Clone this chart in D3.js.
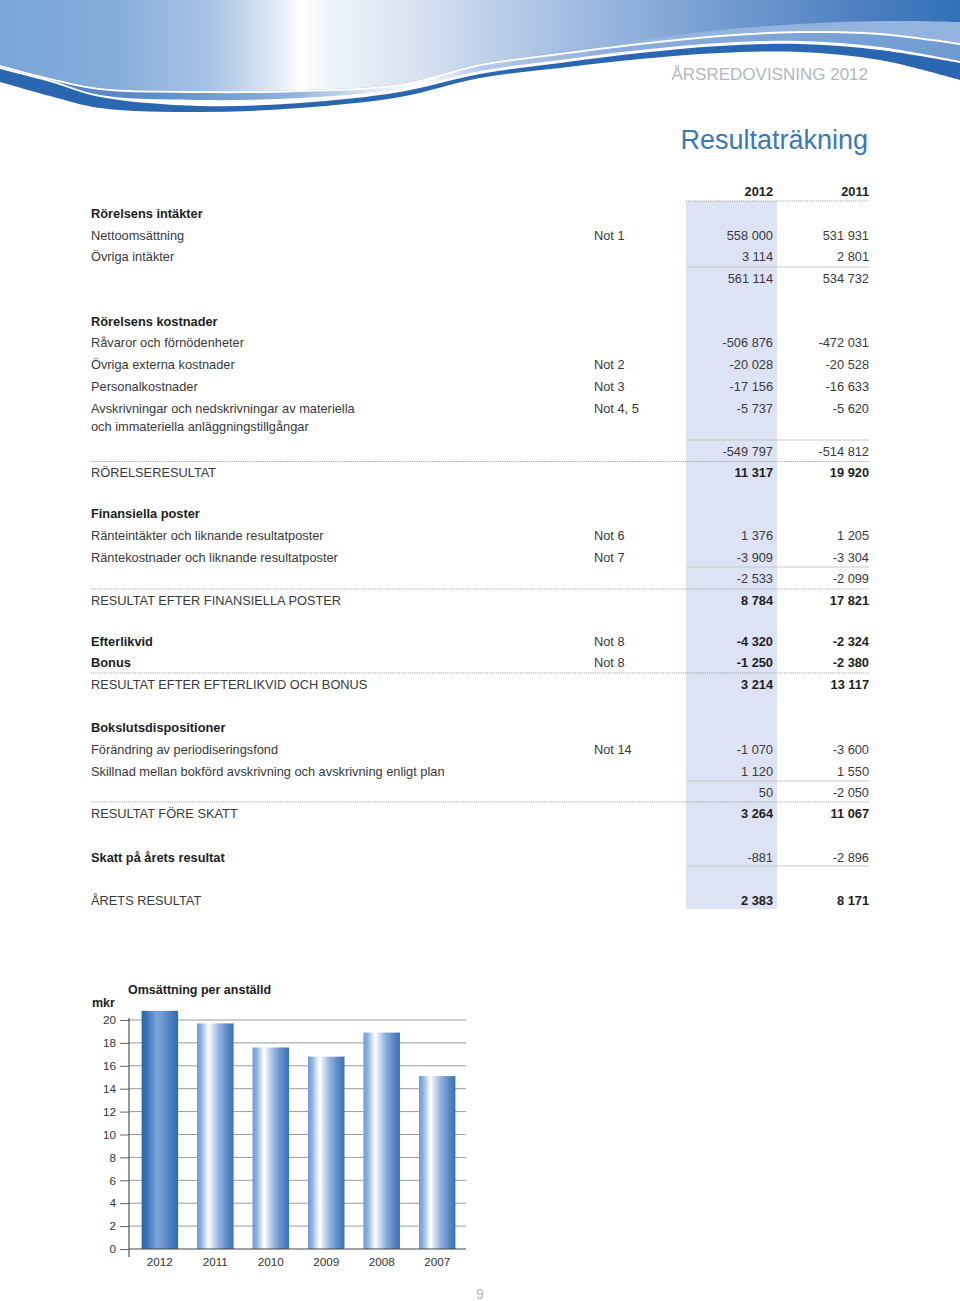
<!DOCTYPE html>
<html><head><meta charset="utf-8">
<script src="https://cdn.jsdelivr.net/npm/d3@7"></script>
<style>html,body{margin:0;padding:0;background:#fff}svg{display:block}</style>
</head><body>
<svg id="page" width="960" height="1301"></svg>
<script>
// ---------- DATA ----------
const tableYears = ["2012", "2011"];
const rowLabels = [
  "Rörelsens intäkter", "Nettoomsättning", "Övriga intäkter", "",
  "Rörelsens kostnader", "Råvaror och förnödenheter", "Övriga externa kostnader", "Personalkostnader",
  "Avskrivningar och nedskrivningar av materiella", "och immateriella anläggningstillgångar", "", "RÖRELSERESULTAT",
  "Finansiella poster", "Ränteintäkter och liknande resultatposter", "Räntekostnader och liknande resultatposter", "",
  "RESULTAT EFTER FINANSIELLA POSTER", "Efterlikvid", "Bonus", "RESULTAT EFTER EFTERLIKVID OCH BONUS",
  "Bokslutsdispositioner", "Förändring av periodiseringsfond", "Skillnad mellan bokförd avskrivning och avskrivning enligt plan", "",
  "RESULTAT FÖRE SKATT", "Skatt på årets resultat", "ÅRETS RESULTAT"
];
const rowNotes = [
  "", "Not 1", "", "",
  "", "", "Not 2", "Not 3",
  "Not 4, 5", "", "", "",
  "", "Not 6", "Not 7", "",
  "", "Not 8", "Not 8", "",
  "", "Not 14", "", "",
  "", "", ""
];
const values2012 = [
  null, 558000, 3114, 561114,
  null, -506876, -20028, -17156,
  -5737, null, -549797, 11317,
  null, 1376, -3909, -2533,
  8784, -4320, -1250, 3214,
  null, -1070, 1120, 50,
  3264, -881, 2383
];
const values2011 = [
  null, 531931, 2801, 534732,
  null, -472031, -20528, -16633,
  -5620, null, -514812, 19920,
  null, 1205, -3304, -2099,
  17821, -2324, -2380, 13117,
  null, -3600, 1550, -2050,
  11067, -2896, 8171
];

const chartTitle = "Omsättning per anställd";
const chartUnit = "mkr";
const chartCategories = ["2012", "2011", "2010", "2009", "2008", "2007"];
const chartValues = [20.8, 19.7, 17.6, 16.8, 18.9, 15.1];
const chartTicks = [0, 2, 4, 6, 8, 10, 12, 14, 16, 18, 20];

// ---------- LAYOUT (not data) ----------
const rowY = [213,235,256,278,321,342,364,386,408,426,451,472,513,535,557,578,600,641,662,684,727,749,771,792,813,857,900];
const rowKind = ["head","item","item","sum","head","item","item","item","item","item","sum","result",
  "head","item","item","sum","result","bold","bold","result","head","item","item","sum","result","tax","result"];
const solidLineY = [267, 440, 567, 781, 866];
const dottedLineY = [461.5, 589, 673, 802];

const FONT = "'Liberation Sans', Arial, Helvetica, sans-serif";
const svg = d3.select("#page");
const defs = svg.append("defs");

// ---------- HEADER DECORATION ----------
function grad(id, stops) {
  const g = defs.append("linearGradient").attr("id", id).attr("gradientUnits", "userSpaceOnUse")
    .attr("x1", 0).attr("x2", 960).attr("y1", 0).attr("y2", 0);
  stops.forEach(s => g.append("stop").attr("offset", s[0]).attr("stop-color", s[1]));
}
grad("mainFill", [[0,"#7aa5d7"],[0.12,"#86addb"],[0.22,"#a8c3e6"],[0.29,"#e4ecf7"],[0.315,"#ffffff"],[0.345,"#eef3fa"],[0.45,"#d3def0"],[0.55,"#b0c6e6"],[0.65,"#92b1dd"],[0.78,"#6d96cd"],[0.9,"#4c7fc1"],[1,"#3170b6"]]);
grad("medFill", [[0,"#4f82c3"],[0.15,"#5b8bc8"],[0.3,"#8eb0dc"],[0.4,"#e8eef8"],[0.44,"#ffffff"],[0.5,"#b5cae8"],[0.65,"#8badda"],[1,"#6f9bd2"]]);

const hx = [0, 50, 100, 200, 300, 400, 480, 560, 640, 720, 800, 880, 960];
const bDark = [82, 96, 108, 112, 108, 97, 78, 68, 59, 53, 52, 60, 80];
const dTop  = [69, 82, 97, 106, 103, 92, 74, 63, 53, 46, 44, 50, 63];
const mBot  = [67, 80, 95, 100, 98, 89, 71, 60, 50, 43, 41, 47, 61];
const mTop  = [67, 80, 90, 93, 92, 86, 66, 55, 45, 37, 33, 35, 45];
const fBot  = [65, 78, 88, 91, 90, 84, 64, 52, 40, 30, 24, 21, 22];

const hArea = d3.area().x(d => d[0]).y0(0).y1(d => d[1]).curve(d3.curveCatmullRom);
function layer(ys, fill, off = 0) {
  svg.append("path").attr("d", hArea(hx.map((x, i) => [x, ys[i] + off]))).attr("fill", fill);
}
layer(bDark, "#2b67b0");
layer(dTop, "#ffffff");
layer(mBot, "url(#medFill)");
layer(mTop, "#ffffff");
layer(mTop, "#93b4df", -2);
layer(fBot, "url(#mainFill)");

svg.append("text").attr("x", 868).attr("y", 79.5).attr("text-anchor", "end")
  .attr("font-family", FONT).attr("font-size", 17).attr("fill", "#b3b7bd")
  .text("ÅRSREDOVISNING 2012");
svg.append("text").attr("x", 868).attr("y", 149).attr("text-anchor", "end")
  .attr("font-family", FONT).attr("font-size", 27).attr("fill", "#3a78ba")
  .text("Resultaträkning");

// ---------- TABLE ----------
const COL_LABEL = 91, COL_NOTE = 594, COL_2012 = 773, COL_2011 = 869;
const shadeX0 = 686, shadeX1 = 777;
svg.append("rect").attr("x", shadeX0).attr("y", 201).attr("width", shadeX1 - shadeX0).attr("height", 909 - 201)
  .attr("fill", "#dde3f4");

const fmt = d3.formatLocale({decimal: ",", thousands: " ", grouping: [3], currency: ["", ""], minus: "-"}).format(",d");
const base = 4.6; // text baseline offset from row centre

// header
tableYears.forEach((yr, i) => {
  svg.append("text").attr("x", i === 0 ? COL_2012 : COL_2011).attr("y", 191 + base)
    .attr("text-anchor", "end").attr("font-family", FONT).attr("font-size", 12.8)
    .attr("font-weight", "bold").attr("fill", "#222").text(yr);
});
svg.append("line").attr("x1", shadeX0).attr("x2", COL_2011).attr("y1", 201).attr("y2", 201)
  .attr("stroke", "#8a8a8a").attr("stroke-width", 0.9).attr("stroke-dasharray", "1 1.2");

solidLineY.forEach(y => svg.append("line").attr("x1", shadeX0).attr("x2", COL_2011)
  .attr("y1", y).attr("y2", y).attr("stroke", "#c9c9c9").attr("stroke-width", 1));
dottedLineY.forEach(y => svg.append("line").attr("x1", COL_LABEL).attr("x2", COL_2011)
  .attr("y1", y).attr("y2", y).attr("stroke", "#8a8a8a").attr("stroke-width", 0.9).attr("stroke-dasharray", "1 1.2"));

const rows = rowLabels.map((label, i) => ({
  label, note: rowNotes[i], v12: values2012[i], v11: values2011[i], y: rowY[i], kind: rowKind[i]
}));
const g = svg.append("g").attr("font-family", FONT).attr("font-size", 12.8);
rows.forEach(r => {
  const labelBold = r.kind === "head" || r.kind === "bold" || r.kind === "tax";
  const numBold = r.kind === "result" || r.kind === "bold";
  if (r.label) g.append("text").attr("x", COL_LABEL).attr("y", r.y + base)
    .attr("font-weight", labelBold ? "bold" : "normal").attr("fill", labelBold ? "#1e1e1e" : "#3a3a3a").text(r.label);
  if (r.note) g.append("text").attr("x", COL_NOTE).attr("y", r.y + base)
    .attr("fill", "#3a3a3a").text(r.note);
  [[r.v12, COL_2012], [r.v11, COL_2011]].forEach(([v, x]) => {
    if (v === null) return;
    g.append("text").attr("x", x).attr("y", r.y + base).attr("text-anchor", "end")
      .attr("font-weight", numBold ? "bold" : "normal").attr("fill", numBold ? "#1e1e1e" : "#3a3a3a").text(fmt(v));
  });
});

// ---------- BAR CHART ----------
function barGrad(id, stops) {
  const gg = defs.append("linearGradient").attr("id", id).attr("x1", 0).attr("x2", 1).attr("y1", 0).attr("y2", 0);
  stops.forEach(s => gg.append("stop").attr("offset", s[0]).attr("stop-color", s[1]));
}
barGrad("barLight", [[0,"#6e9ad2"],[0.12,"#8fb3e0"],[0.27,"#e6eef8"],[0.33,"#ffffff"],[0.42,"#d6e2f3"],[0.6,"#92b3de"],[0.8,"#5f8dc9"],[1,"#3a70b5"]]);
barGrad("barDark", [[0,"#2a64ad"],[0.15,"#3a74b9"],[0.4,"#7aa3d6"],[0.55,"#6f9ad0"],[0.8,"#4a7ec0"],[1,"#3169b1"]]);

const x = d3.scaleBand().domain(chartCategories).range([130.5, 466.5]).paddingInner(0.342).paddingOuter(0.2);
const y = d3.scaleLinear().domain([0, 20]).range([1249, 1020]);
const AX = 129, GRID_END = 466;

const chart = svg.append("g").attr("font-family", FONT);
chart.append("g").selectAll("line").data(chartTicks.filter(t => t > 0)).join("line")
  .attr("x1", AX).attr("x2", GRID_END).attr("y1", d => y(d)).attr("y2", d => y(d))
  .attr("stroke", "#9a9a9a").attr("stroke-width", 1);

chart.append("g").selectAll("rect").data(chartCategories).join("rect")
  .attr("x", d => x(d)).attr("width", x.bandwidth())
  .attr("y", (d, i) => y(chartValues[i])).attr("height", (d, i) => y(0) - y(chartValues[i]))
  .attr("fill", (d, i) => i === 0 ? "url(#barDark)" : "url(#barLight)");

const yAxis = d3.axisLeft(y).tickValues(chartTicks).tickSize(9).tickPadding(4).tickFormat(d3.format("d"));
const ya = chart.append("g").attr("transform", `translate(${AX},0)`).call(yAxis);
ya.select(".domain").remove();
ya.selectAll(".tick line").attr("stroke", "#666");
ya.selectAll(".tick text").attr("font-family", FONT).attr("font-size", 11.7).attr("fill", "#333");
chart.append("line").attr("x1", AX).attr("x2", AX).attr("y1", y(20) - 2).attr("y2", 1257)
  .attr("stroke", "#444").attr("stroke-width", 1.1);
chart.append("line").attr("x1", AX).attr("x2", GRID_END).attr("y1", y(0)).attr("y2", y(0))
  .attr("stroke", "#444").attr("stroke-width", 1.1);

const xAxis = d3.axisBottom(x).tickSize(0).tickPadding(9);
const xa = chart.append("g").attr("transform", `translate(0,${y(0)})`).call(xAxis);
xa.select(".domain").remove();
xa.selectAll(".tick text").attr("font-family", FONT).attr("font-size", 11.7).attr("fill", "#333");

chart.append("text").attr("x", 128).attr("y", 994).attr("font-size", 12.5).attr("font-weight", "bold")
  .attr("fill", "#1e1e1e").text(chartTitle);
chart.append("text").attr("x", 92).attr("y", 1007).attr("font-size", 12.5).attr("font-weight", "bold")
  .attr("fill", "#1e1e1e").text(chartUnit);

// page number
svg.append("text").attr("x", 480).attr("y", 1295).attr("text-anchor", "middle").attr("dominant-baseline", "middle")
  .attr("font-family", FONT).attr("font-size", 14).attr("fill", "#b3b3b3").text("9");
</script>
</body></html>
